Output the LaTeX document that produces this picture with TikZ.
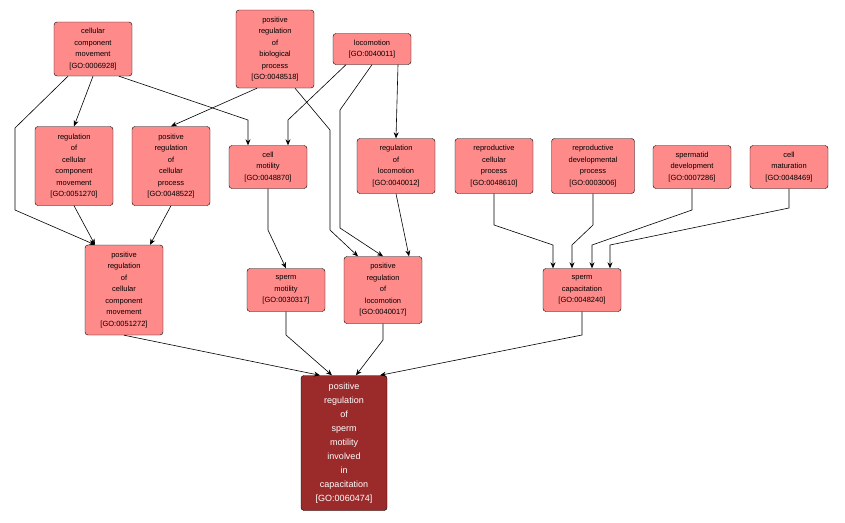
\documentclass[tikz,border=0pt]{standalone}
\usepackage{fontspec}
\setmainfont{Liberation Sans}
\usetikzlibrary{arrows.meta,positioning}
\definecolor{goterm}{RGB}{255,138,138}
\definecolor{goroot}{RGB}{155,43,43}
\tikzstyle{term} = [
  draw, fill=goterm, rounded corners=3pt, align=center,
  minimum width=78pt, inner sep=2pt,
  font=\fontsize{7.5}{11.5}\selectfont,
]
\tikzstyle{edge} = [-{Stealth[length=6pt,width=5pt]}, line width=0.6pt]

\begin{document}
\begin{tikzpicture}[x=1pt, y=-1pt]
  \useasboundingbox (0,0) rectangle (845,522);
  % top row
  \node [term, minimum height=54pt] (ccm) at (93,49)
        {cellular\\component\\movement\\{[GO:0006928]}};
  \node [term, minimum height=78pt] (prbp) at (275,49)
        {positive\\regulation\\of\\biological\\process\\{[GO:0048518]}};
  \node [term, minimum height=31pt] (loco) at (372,49)
        {locomotion\\{[GO:0040011]}};
  % second row
  \node [term, minimum height=79pt] (rccm) at (74,166)
        {regulation\\of\\cellular\\component\\movement\\{[GO:0051270]}};
  \node [term, minimum height=79pt] (prcp) at (171,166)
        {positive\\regulation\\of\\cellular\\process\\{[GO:0048522]}};
  \node [term, minimum height=43pt] (cm) at (268,167)
        {cell\\motility\\{[GO:0048870]}};
  \node [term, minimum height=55pt] (rl) at (396,166)
        {regulation\\of\\locomotion\\{[GO:0040012]}};
  \node [term, minimum height=55pt] (rcp) at (494,166)
        {reproductive\\cellular\\process\\{[GO:0048610]}};
  \node [term, minimum height=55pt, minimum width=83pt] (rdp) at (593,166)
        {reproductive\\developmental\\process\\{[GO:0003006]}};
  \node [term, minimum height=43pt] (sd) at (692,167)
        {spermatid\\development\\{[GO:0007286]}};
  \node [term, minimum height=43pt] (cmat) at (789,167)
        {cell\\maturation\\{[GO:0048469]}};
  % third row
  \node [term, minimum height=90pt] (prccm) at (124,290)
        {positive\\regulation\\of\\cellular\\component\\movement\\{[GO:0051272]}};
  \node [term, minimum height=43pt] (sm) at (286,290)
        {sperm\\motility\\{[GO:0030317]}};
  \node [term, minimum height=67pt] (prl) at (383,290)
        {positive\\regulation\\of\\locomotion\\{[GO:0040017]}};
  \node [term, minimum height=43pt] (sc) at (582,290)
        {sperm\\capacitation\\{[GO:0048240]}};
  % target
  \node [term, fill=goroot, text=white, minimum width=86pt, minimum height=135pt,
         font=\fontsize{9}{14}\selectfont] (target) at (344,443)
        {positive\\regulation\\of\\sperm\\motility\\involved\\in\\capacitation\\{[GO:0060474]}};

  \draw [edge] (ccm.south) -- (rccm.north);
  \draw [edge] ([xshift=-25pt]ccm.south) -- (15,128) -- (15,210) -- ([xshift=-29pt]prccm.north);
  \draw [edge] ([xshift=26pt]ccm.south) -- (248,120) -- ([xshift=-20pt]cm.north);
  \draw [edge] ([xshift=-18pt]prbp.south) -- (prcp.north);
  \draw [edge] ([xshift=20pt]prbp.south) -- (330,130) -- (330,230) -- ([xshift=-25pt]prl.north);
  \draw [edge] ([xshift=-26pt]loco.south) -- (288,120) -- ([xshift=20pt]cm.north);
  \draw [edge] (loco.south) -- (340,110) -- (340,228) -- (prl.north);
  \draw [edge] ([xshift=26pt]loco.south) -- (rl.north);
  \draw [edge] (rl.south) -- ([xshift=26pt]prl.north);
  \draw [edge] (rccm.south) -- ([xshift=-29pt]prccm.north);
  \draw [edge] (prcp.south) -- ([xshift=26pt]prccm.north);
  \draw [edge] (cm.south) -- (268,230) -- (sm.north);
  \draw [edge] (rcp.south) -- (494,225) -- (553,245) -- ([xshift=-29pt]sc.north);
  \draw [edge] (rdp.south) -- (593,225) -- (572,245) -- ([xshift=-10pt]sc.north);
  \draw [edge] (sd.south) -- (692,210) -- (592,245) -- ([xshift=10pt]sc.north);
  \draw [edge] (cmat.south) -- (789,208) -- (610,245) -- ([xshift=28pt]sc.north);
  \draw [edge] (prccm.south) -- ([xshift=-24pt]target.north);
  \draw [edge] (sm.south) -- (286,335) -- ([xshift=-12pt]target.north);
  \draw [edge] (prl.south) -- (383,340) -- ([xshift=12pt]target.north);
  \draw [edge] (sc.south) -- (582,335) -- ([xshift=36pt]target.north);
\end{tikzpicture}
\end{document}
